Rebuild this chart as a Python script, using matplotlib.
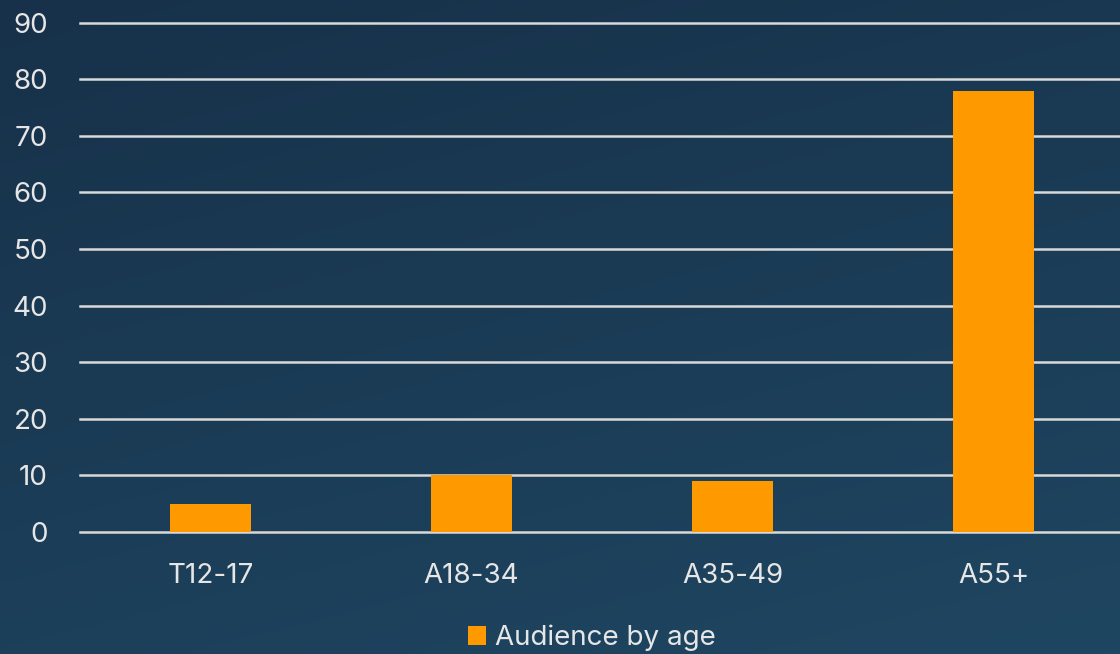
import matplotlib
matplotlib.use("Agg")
import matplotlib.pyplot as plt
import numpy as np
from matplotlib.colors import LinearSegmentedColormap

categories = ["T12-17", "A18-34", "A35-49", "A55+"]
values = [5, 10, 9, 78]
series_name = "Audience by age"
yticks = [0, 10, 20, 30, 40, 50, 60, 70, 80, 90]

plt.rcParams['font.family'] = ['Inter', 'DejaVu Sans']

W, H = 1120, 654
fig = plt.figure(figsize=(W / 100, H / 100), dpi=100)

# gradient background
bg = fig.add_axes([0, 0, 1, 1], zorder=-10)
yy, xx = np.mgrid[0:1:200j, 0:1:200j]
t = (yy * 0.7 + xx * 0.3)
cmap = LinearSegmentedColormap.from_list("bg", ["#17314a", "#1f4661"])
bg.imshow(t, cmap=cmap, aspect='auto', extent=[0, 1, 0, 1], origin='upper')
bg.axis('off')

left = 80 / W
right = 1124 / W
bottom = 1 - 532 / H
top = 1 - 22.7 / H
ax = fig.add_axes([left, bottom, right - left, top - bottom])
ax.set_facecolor('none')
x = np.arange(len(categories))
ax.bar(x, values, width=0.31, color="#ff9900", zorder=3, label=series_name)
ax.set_xlim(-0.5, len(categories) - 0.5)
ax.set_ylim(0, 90)
ax.set_yticks(yticks)
ax.set_xticks(x)
ax.set_xticklabels(categories)
ax.grid(axis='y', color='#d9d9d9', linewidth=1.8, zorder=1)
for gl in ax.get_ygridlines():
    gl.set_clip_on(False)
ax.set_axisbelow(True)
for s in ax.spines.values():
    s.set_visible(False)
ax.tick_params(axis='both', length=0, colors='#e6e6e6', labelsize=20)
ax.tick_params(axis='y', pad=23)
ax.tick_params(axis='x', pad=22)
for lbl in ax.get_yticklabels():
    lbl.set_horizontalalignment('right')

leg = fig.legend(loc='center', bbox_to_anchor=(592 / W, 1 - 638 / H), frameon=False,
                 fontsize=20, labelcolor='#e6e6e6', handlelength=0.65, handleheight=0.65,
                 handletextpad=0.3)

fig.savefig("out.png", dpi=100)
